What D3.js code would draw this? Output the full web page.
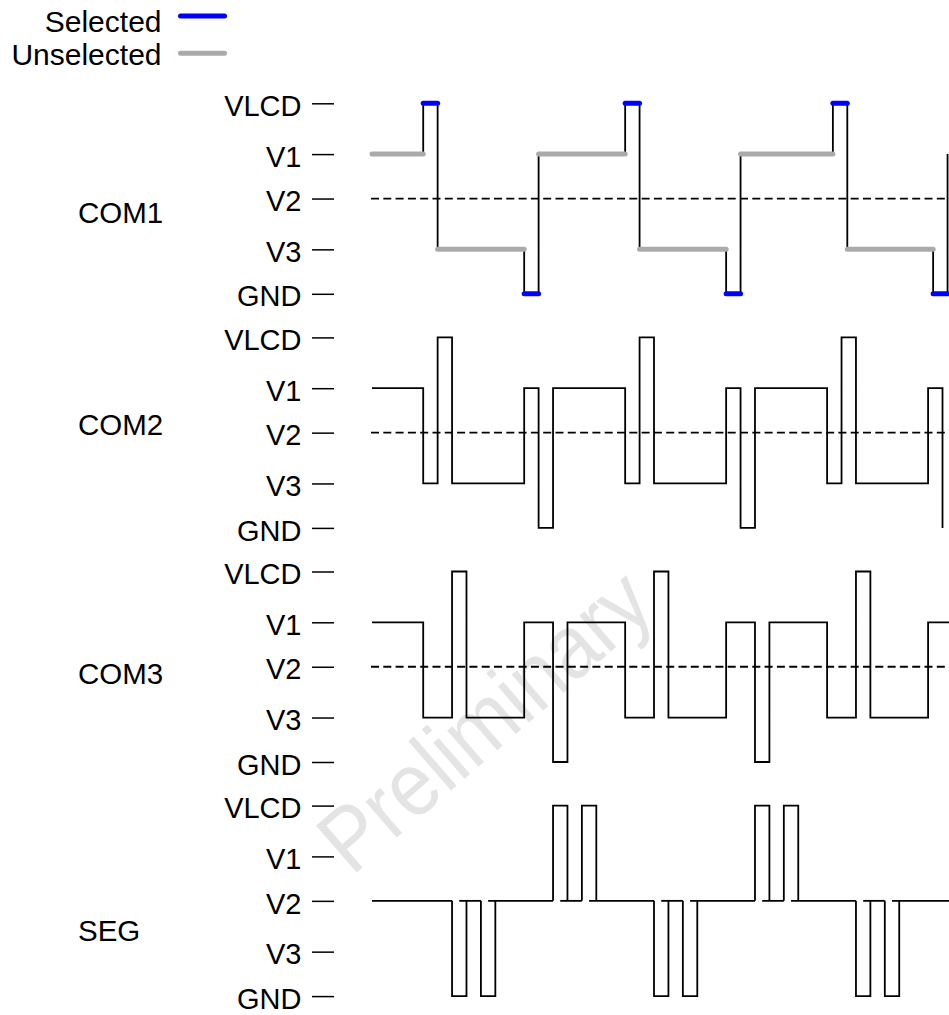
<!DOCTYPE html>
<html><head><meta charset="utf-8">
<script src="https://cdn.jsdelivr.net/npm/d3@7/dist/d3.min.js"></script>
<style>body{margin:0;background:#fff} svg{display:block}</style>
</head><body><svg id="chart" width="949" height="1015"></svg>
<script>
// ---------------- data ----------------
const levelNames = ["VLCD", "V1", "V2", "V3", "GND"];
const levelVolts = [3.0, 2.2, 1.5, 0.7, 0.0];
const panelNames = ["COM1", "COM2", "COM3", "SEG"];
const legendLabels = ["Selected", "Unselected"];
const watermarkText = "Preliminary";
// time measured in COM slots; visible window
const timeWindow = [-3.55, 36.45];
// step waveforms: [start time, level held from that time]
const com1Steps = [[-3.55,"V1"],[0,"VLCD"],[1,"V3"],[7,"GND"],[8,"V1"],[14,"VLCD"],[15,"V3"],[21,"GND"],[22,"V1"],[28.4,"VLCD"],[29.4,"V3"],[35.35,"GND"],[36.35,"V1"]];
const com2Steps = [[-3.55,"V1"],[0,"V3"],[1,"VLCD"],[2,"V3"],[7,"V1"],[8,"GND"],[9,"V1"],[14,"V3"],[15,"VLCD"],[16,"V3"],[21,"V1"],[22,"GND"],[23,"V1"],[28,"V3"],[29,"VLCD"],[30,"V3"],[35,"V1"],[36,"GND"]];
const com3Steps = [[-3.55,"V1"],[0,"V3"],[2,"VLCD"],[3,"V3"],[7,"V1"],[9,"GND"],[10,"V1"],[14,"V3"],[16,"VLCD"],[17,"V3"],[21,"V1"],[23,"GND"],[24,"V1"],[28,"V3"],[30,"VLCD"],[31,"V3"],[35,"V1"],[36.45,"V1"]];
// SEG pulses: [start, end, level]; baseline pieces at V2: [start, end]
const segPulses = [[2,3,"GND"],[4,5,"GND"],[9,10,"VLCD"],[11,12,"VLCD"],[16,17,"GND"],[18,19,"GND"],[23,24,"VLCD"],[25,26,"VLCD"],[30,31,"GND"],[32,33,"GND"]];
const segBaseline = [[-3.55,2],[2.5,4],[4.5,9],[9.5,11],[11.5,16],[16.5,18],[18.5,23],[23.5,25],[25.5,30],[30.5,32],[32.5,36.45]];

// ---------------- layout ----------------
const FONT = "'Liberation Sans', Arial, Helvetica, sans-serif";
const svg = d3.select("#chart");
const volt = name => levelVolts[levelNames.indexOf(name)];
const x = d3.scaleLinear().domain(timeWindow).range([372, 949]);
const panelTop = i => 103.3 + i * 234.1;
const panelH = 190.5;
const labelCenter = [212, 424, 673, 930];
const selColor = "#0000ff", unselColor = "#aaaaaa";

// watermark (behind)
svg.append("text")
  .attr("transform", "translate(484,720) rotate(-41) scale(0.9,1)")
  .attr("text-anchor", "middle").attr("dominant-baseline", "central")
  .style("font-family", FONT).style("font-size", "90px")
  .attr("fill", "#e4e4e4").text(watermarkText);

// legend
legendLabels.forEach((lab, i) => {
  const yl = [16, 53.3][i];
  svg.append("text").attr("x", 161.5).attr("y", [31.5, 65][i])
    .attr("text-anchor", "end").style("font-family", FONT).style("font-size", "30px")
    .attr("fill", "#000").text(lab);
  svg.append("line").attr("x1", 180.5).attr("x2", 224.5).attr("y1", yl).attr("y2", yl)
    .attr("stroke", i === 0 ? selColor : unselColor).attr("stroke-width", 5).attr("stroke-linecap", "round");
});

const steps = [com1Steps, com2Steps, com3Steps, null];

panelNames.forEach((name, i) => {
  const top = panelTop(i);
  const y = d3.scaleLinear().domain([0, 3]).range([top + panelH, top]);
  const g = svg.append("g");

  // axis
  const ax = g.append("g").attr("transform", "translate(334,0)")
    .call(d3.axisLeft(y).tickValues(levelVolts).tickFormat((d, k) => levelNames[k]).tickSize(22).tickPadding(10.5));
  ax.select(".domain").remove();
  ax.selectAll(".tick line").attr("stroke", "#000").attr("stroke-width", 1.5);
  ax.selectAll(".tick text").style("font-family", FONT).style("font-size", "29px").attr("fill", "#000").attr("dy", "0.42em");

  // panel label
  g.append("text").attr("x", 78).attr("y", labelCenter[i]).attr("dy", "0.36em")
    .style("font-family", FONT).style("font-size", "29.5px").attr("fill", "#000").text(name);

  if (steps[i]) {
    // dashed mid-level reference
    g.append("line").attr("x1", x.range()[0] - 1).attr("x2", x.range()[1])
      .attr("y1", y(volt("V2"))).attr("y2", y(volt("V2")))
      .attr("stroke", "#000").attr("stroke-width", 1.8).attr("stroke-dasharray", "8,4.3");
    const line = d3.line().x(d => x(d[0])).y(d => y(volt(d[1]))).curve(d3.curveStepAfter);
    g.append("path").attr("d", line(steps[i])).attr("fill", "none")
      .attr("stroke", "#000").attr("stroke-width", 1.8);
    if (i === 0) {
      const segs = d3.pairs(steps[i]);
      g.selectAll("line.lvl").data(segs).join("line").attr("class", "lvl")
        .attr("x1", d => x(d[0][0])).attr("x2", d => x(d[1][0]))
        .attr("y1", d => y(volt(d[0][1]))).attr("y2", d => y(volt(d[0][1])))
        .attr("stroke", d => (d[0][1] === "VLCD" || d[0][1] === "GND") ? selColor : unselColor)
        .attr("stroke-width", 5).attr("stroke-linecap", "round");
    }
  } else {
    const yb = y(volt("V2"));
    g.selectAll("line.base").data(segBaseline).join("line").attr("class", "base")
      .attr("x1", d => x(d[0])).attr("x2", d => x(d[1])).attr("y1", yb).attr("y2", yb)
      .attr("stroke", "#000").attr("stroke-width", 1.8);
    g.selectAll("path.pulse").data(segPulses).join("path").attr("class", "pulse")
      .attr("d", d => `M${x(d[0])},${yb}V${y(volt(d[2]))}H${x(d[1])}V${yb}`)
      .attr("fill", "none").attr("stroke", "#000").attr("stroke-width", 1.8);
  }
});
</script></body></html>
